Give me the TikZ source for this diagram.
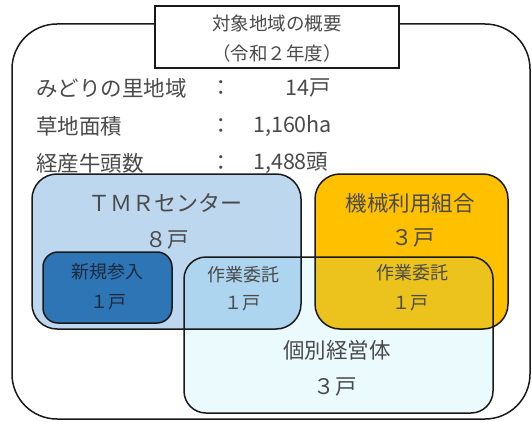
\documentclass[tikz,border=0pt]{standalone}
\usepackage{fontspec}
\setmainfont{Noto Sans CJK JP}
\definecolor{tmrblue}{HTML}{BDD7EE}
\definecolor{kikaigold}{HTML}{FFC000}
\definecolor{indcyan}{HTML}{EAFAFD}
\definecolor{tmrind}{HTML}{AED5EF}
\definecolor{kikaiind}{HTML}{EBC31C}
\definecolor{shinki}{HTML}{2E75B6}
\definecolor{txtgray}{HTML}{4A4A4A}
\definecolor{txtdark}{HTML}{1C2A3C}
\tikzset{
  edge/.style={draw=black!90, line width=1.5pt},
  lbl/.style={text=txtgray, inner sep=0pt, font=\fontsize{21.5}{21.5}\selectfont},
  sml/.style={text=txtgray, inner sep=0pt, font=\fontsize{18}{18}\selectfont},
}
\begin{document}
\begin{tikzpicture}[x=1pt,y=-1pt]
\useasboundingbox (0,0) rectangle (532,422);
% outer frame
\draw[edge, rounded corners=45pt, fill=white] (12,24) rectangle (530,419);
% fills
\fill[tmrblue, rounded corners=25pt] (32,174) rectangle (301,329);
\fill[kikaigold, rounded corners=25pt] (315,174) rectangle (508,329);
\fill[indcyan, rounded corners=22pt] (184,257) rectangle (493,413);
\begin{scope}
  \clip[rounded corners=22pt] (184,257) rectangle (493,413);
  \fill[tmrind, rounded corners=25pt] (32,174) rectangle (301,329);
  \fill[kikaiind, rounded corners=25pt] (315,174) rectangle (508,329);
\end{scope}
% borders
\draw[edge, rounded corners=25pt] (32,174) rectangle (301,329);
\draw[edge, rounded corners=25pt] (315,174) rectangle (508,329);
\draw[edge, rounded corners=22pt] (184,257) rectangle (493,413);
\draw[edge, rounded corners=15pt, fill=shinki] (43,252) rectangle (172,323);
% title box
\draw[edge, fill=white] (155,6) rectangle (399,68);
\node[sml, font=\fontsize{18.5}{18.5}\selectfont] (t1) at (277,23) {対象地域の概要};
\node[sml, font=\fontsize{18.5}{18.5}\selectfont] (t2) at (277,53) {（令和２年度）};
% summary rows
\node[lbl, anchor=west] (r1a) at (36,88) {みどりの里地域};
\node[lbl] (r1b) at (221,88) {：};
\node[lbl, anchor=west] (r1c) at (285,88) {14戸};
\node[lbl, anchor=west] (r2a) at (36,126) {草地面積};
\node[lbl] (r2b) at (221,126) {：};
\node[lbl, anchor=west] (r2c) at (253,126) {1,160ha};
\node[lbl, anchor=west] (r3a) at (36,163) {経産牛頭数};
\node[lbl] (r3b) at (221,163) {：};
\node[lbl, anchor=west] (r3c) at (253,163) {1,488頭};
% group labels
\node[lbl, font=\fontsize{22}{22}\selectfont] (tmr) at (165,203) {ＴＭＲセンター};
\node[lbl] (tmrn) at (167,240) {８戸};
\node[lbl] (kikai) at (410,203) {機械利用組合};
\node[lbl] (kikain) at (413,238) {３戸};
\node[sml, text=txtdark] (shin) at (107,272) {新規参入};
\node[sml, text=txtdark] (shinn) at (108,302) {１戸};
\node[sml] (itaku1) at (243,275) {作業委託};
\node[sml] (itaku1n) at (242,303) {１戸};
\node[sml] (itaku2) at (412,273) {作業委託};
\node[sml] (itaku2n) at (410,303) {１戸};
\node[lbl] (ind) at (337,350) {個別経営体};
\node[lbl] (indn) at (335,387) {３戸};
\end{tikzpicture}
\end{document}
